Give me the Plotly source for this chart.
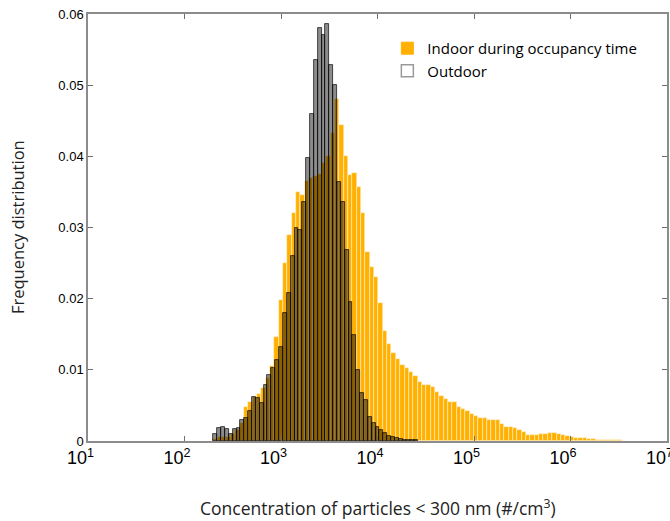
import plotly.graph_objects as go

# Indoor histogram: log10 bin centres (bin width 0.045) and frequencies
indoor_log_centres = [2.3225, 2.3675, 2.4125, 2.4575, 2.5025, 2.5475, 2.5925, 2.6375, 2.6825, 2.7275,
                      2.7725, 2.8175, 2.8625, 2.9075, 2.9525, 2.9975, 3.0425, 3.0875, 3.1325, 3.1775,
                      3.2225, 3.2675, 3.3125, 3.3575, 3.4025, 3.4475, 3.4925, 3.5375, 3.5825, 3.6275,
                      3.6725, 3.7175, 3.7625, 3.8075, 3.8525, 3.8975, 3.9425, 3.9875, 4.0325, 4.0775,
                      4.1225, 4.1675, 4.2125, 4.2575, 4.3025, 4.3475, 4.3925, 4.4375, 4.4825, 4.5275,
                      4.5725, 4.6175, 4.6625, 4.7075, 4.7525, 4.7975, 4.8425, 4.8875, 4.9325, 4.9775,
                      5.0225, 5.0675, 5.1125, 5.1575, 5.2025, 5.2475, 5.2925, 5.3375, 5.3825, 5.4275,
                      5.4725, 5.5175, 5.5625, 5.6075, 5.6525, 5.6975, 5.7425, 5.7875, 5.8325, 5.8775,
                      5.9225, 5.9675, 6.0125, 6.0575, 6.1025, 6.1475, 6.1925, 6.2375, 6.2825, 6.3275,
                      6.3725, 6.4175, 6.4625, 6.5075, 6.5525]
indoor_freq = [0.0003, 0.0005, 0.0006, 0.0006, 0.0010, 0.0015, 0.0025, 0.0048, 0.0055, 0.0062,
               0.0066, 0.0075, 0.0088, 0.0105, 0.0146, 0.0198, 0.0250, 0.0290, 0.0320, 0.0350,
               0.0345, 0.0365, 0.0370, 0.0372, 0.0375, 0.0390, 0.0400, 0.0433, 0.0480, 0.0444,
               0.0400, 0.0374, 0.0376, 0.0357, 0.0320, 0.0265, 0.0244, 0.0230, 0.0194, 0.0155,
               0.0136, 0.0124, 0.0115, 0.0107, 0.0102, 0.0097, 0.0091, 0.0083, 0.0079, 0.0079,
               0.0076, 0.0069, 0.0063, 0.0059, 0.0055, 0.0055, 0.0048, 0.0045, 0.0042, 0.0038,
               0.0035, 0.0033, 0.0032, 0.0030, 0.0029, 0.0029, 0.0024, 0.0020, 0.0020, 0.0018,
               0.0015, 0.0012, 0.0009, 0.0008, 0.0008, 0.0010, 0.0010, 0.0011, 0.0011, 0.0010,
               0.0008, 0.0007, 0.0005, 0.0004, 0.0004, 0.0004, 0.0003, 0.0003, 0.0002, 0.0002,
               0.00015, 0.0001, 0.0001, 0.0001, 0.00005]

# Outdoor histogram: log10 bin centres (bin width 0.04) and frequencies
outdoor_log_centres = [2.32, 2.36, 2.40, 2.44, 2.48, 2.52, 2.56, 2.60, 2.64, 2.68,
                       2.72, 2.76, 2.80, 2.84, 2.88, 2.92, 2.96, 3.00, 3.04, 3.08,
                       3.12, 3.16, 3.20, 3.24, 3.28, 3.32, 3.36, 3.40, 3.44, 3.48,
                       3.52, 3.56, 3.60, 3.64, 3.68, 3.72, 3.76, 3.80, 3.84, 3.88,
                       3.92, 3.96, 4.00, 4.04, 4.08, 4.12, 4.16, 4.20, 4.24, 4.28,
                       4.32, 4.36, 4.40]
outdoor_freq = [0.0010, 0.0018, 0.0019, 0.0017, 0.0010, 0.0017, 0.0018, 0.0030, 0.0033, 0.0042,
                0.0062, 0.0060, 0.0053, 0.0079, 0.0093, 0.0102, 0.0114, 0.0132, 0.0180, 0.0208,
                0.0260, 0.0300, 0.0296, 0.0336, 0.0398, 0.0460, 0.0535, 0.0580, 0.0570, 0.0586,
                0.0528, 0.0500, 0.0364, 0.0336, 0.0268, 0.0195, 0.0149, 0.0100, 0.0067, 0.0058,
                0.0034, 0.0025, 0.0020, 0.0015, 0.0011, 0.0007, 0.0005, 0.0004, 0.0003, 0.0002,
                0.0002, 0.0001, 0.0001]

x_tick_vals = [1, 2, 3, 4, 5, 6, 7]
x_tick_text = ["10<sup>%d</sup>\u00a0\u00a0\u00a0" % v for v in x_tick_vals]
y_tick_vals = [0, 0.01, 0.02, 0.03, 0.04, 0.05, 0.06]
y_tick_text = ["0", "0.01", "0.02", "0.03", "0.04", "0.05", "0.06"]

ORANGE = "rgb(255,176,0)"

fig = go.Figure()
fig.add_trace(go.Bar(
    x=indoor_log_centres, y=indoor_freq, width=0.045,
    marker=dict(color=ORANGE, line=dict(color="rgba(255,245,220,0.9)", width=0.6)),
    name="Indoor during occupancy time", showlegend=False,
))
fig.add_trace(go.Bar(
    x=outdoor_log_centres, y=outdoor_freq, width=0.04,
    marker=dict(color="rgba(0,0,0,0.45)", line=dict(color="rgba(0,0,0,0.85)", width=0.8)),
    name="Outdoor", showlegend=False,
))
# legend swatches
fig.add_trace(go.Bar(x=[None], y=[None], name="Indoor during occupancy time",
                     marker=dict(color=ORANGE, line=dict(color=ORANGE, width=1))))
fig.add_trace(go.Bar(x=[None], y=[None], name="Outdoor",
                     marker=dict(color="white", line=dict(color="#9a9a9a", width=1.5))))

axis_common = dict(showline=True, linecolor="#8c8c8c", linewidth=1.5, mirror="allticks",
                   ticks="inside", ticklen=5, tickcolor="#6e6e6e", showgrid=False, zeroline=False,
                   automargin=False)

TITLE_FAMILY = "Open Sans, Noto Sans, sans-serif"

fig.update_layout(
    width=670, height=521,
    margin=dict(l=88, r=3, t=14, b=80),
    paper_bgcolor="white", plot_bgcolor="white",
    barmode="overlay", bargap=0,
    font=dict(family="Liberation Sans, Arial, sans-serif", color="black"),
    xaxis=dict(range=[1, 7], tickvals=x_tick_vals, ticktext=x_tick_text,
               tickfont=dict(size=18, family="Liberation Sans, Arial"),
               ticklabeloverflow="allow", **axis_common),
    yaxis=dict(range=[0, 0.06], tickvals=y_tick_vals, ticktext=y_tick_text,
               tickfont=dict(size=13, family="Liberation Sans, Arial"),
               **axis_common),
    legend=dict(x=0.517, y=0.958, xanchor="left", yanchor="top", bgcolor="rgba(255,255,255,0)",
                font=dict(size=15, family=TITLE_FAMILY), tracegroupgap=0,
                itemwidth=30),
    annotations=[
        dict(text="Concentration of particles < 300 nm (#/cm<sup>3</sup>)", xref="paper", yref="paper",
             x=0.501, y=-0.155, xanchor="center", yanchor="middle", showarrow=False,
             font=dict(size=17.5, family=TITLE_FAMILY, color="#222")),
        dict(text="Frequency distribution", xref="paper", yref="paper", textangle=-90,
             x=-0.1226, y=0.501, xanchor="center", yanchor="middle", showarrow=False,
             font=dict(size=16.5, family=TITLE_FAMILY, color="#222")),
    ],
)

fig.write_html("out.html", config={"displayModeBar": False},
               post_script="document.body.style.margin='0';document.body.style.overflow='hidden';")
